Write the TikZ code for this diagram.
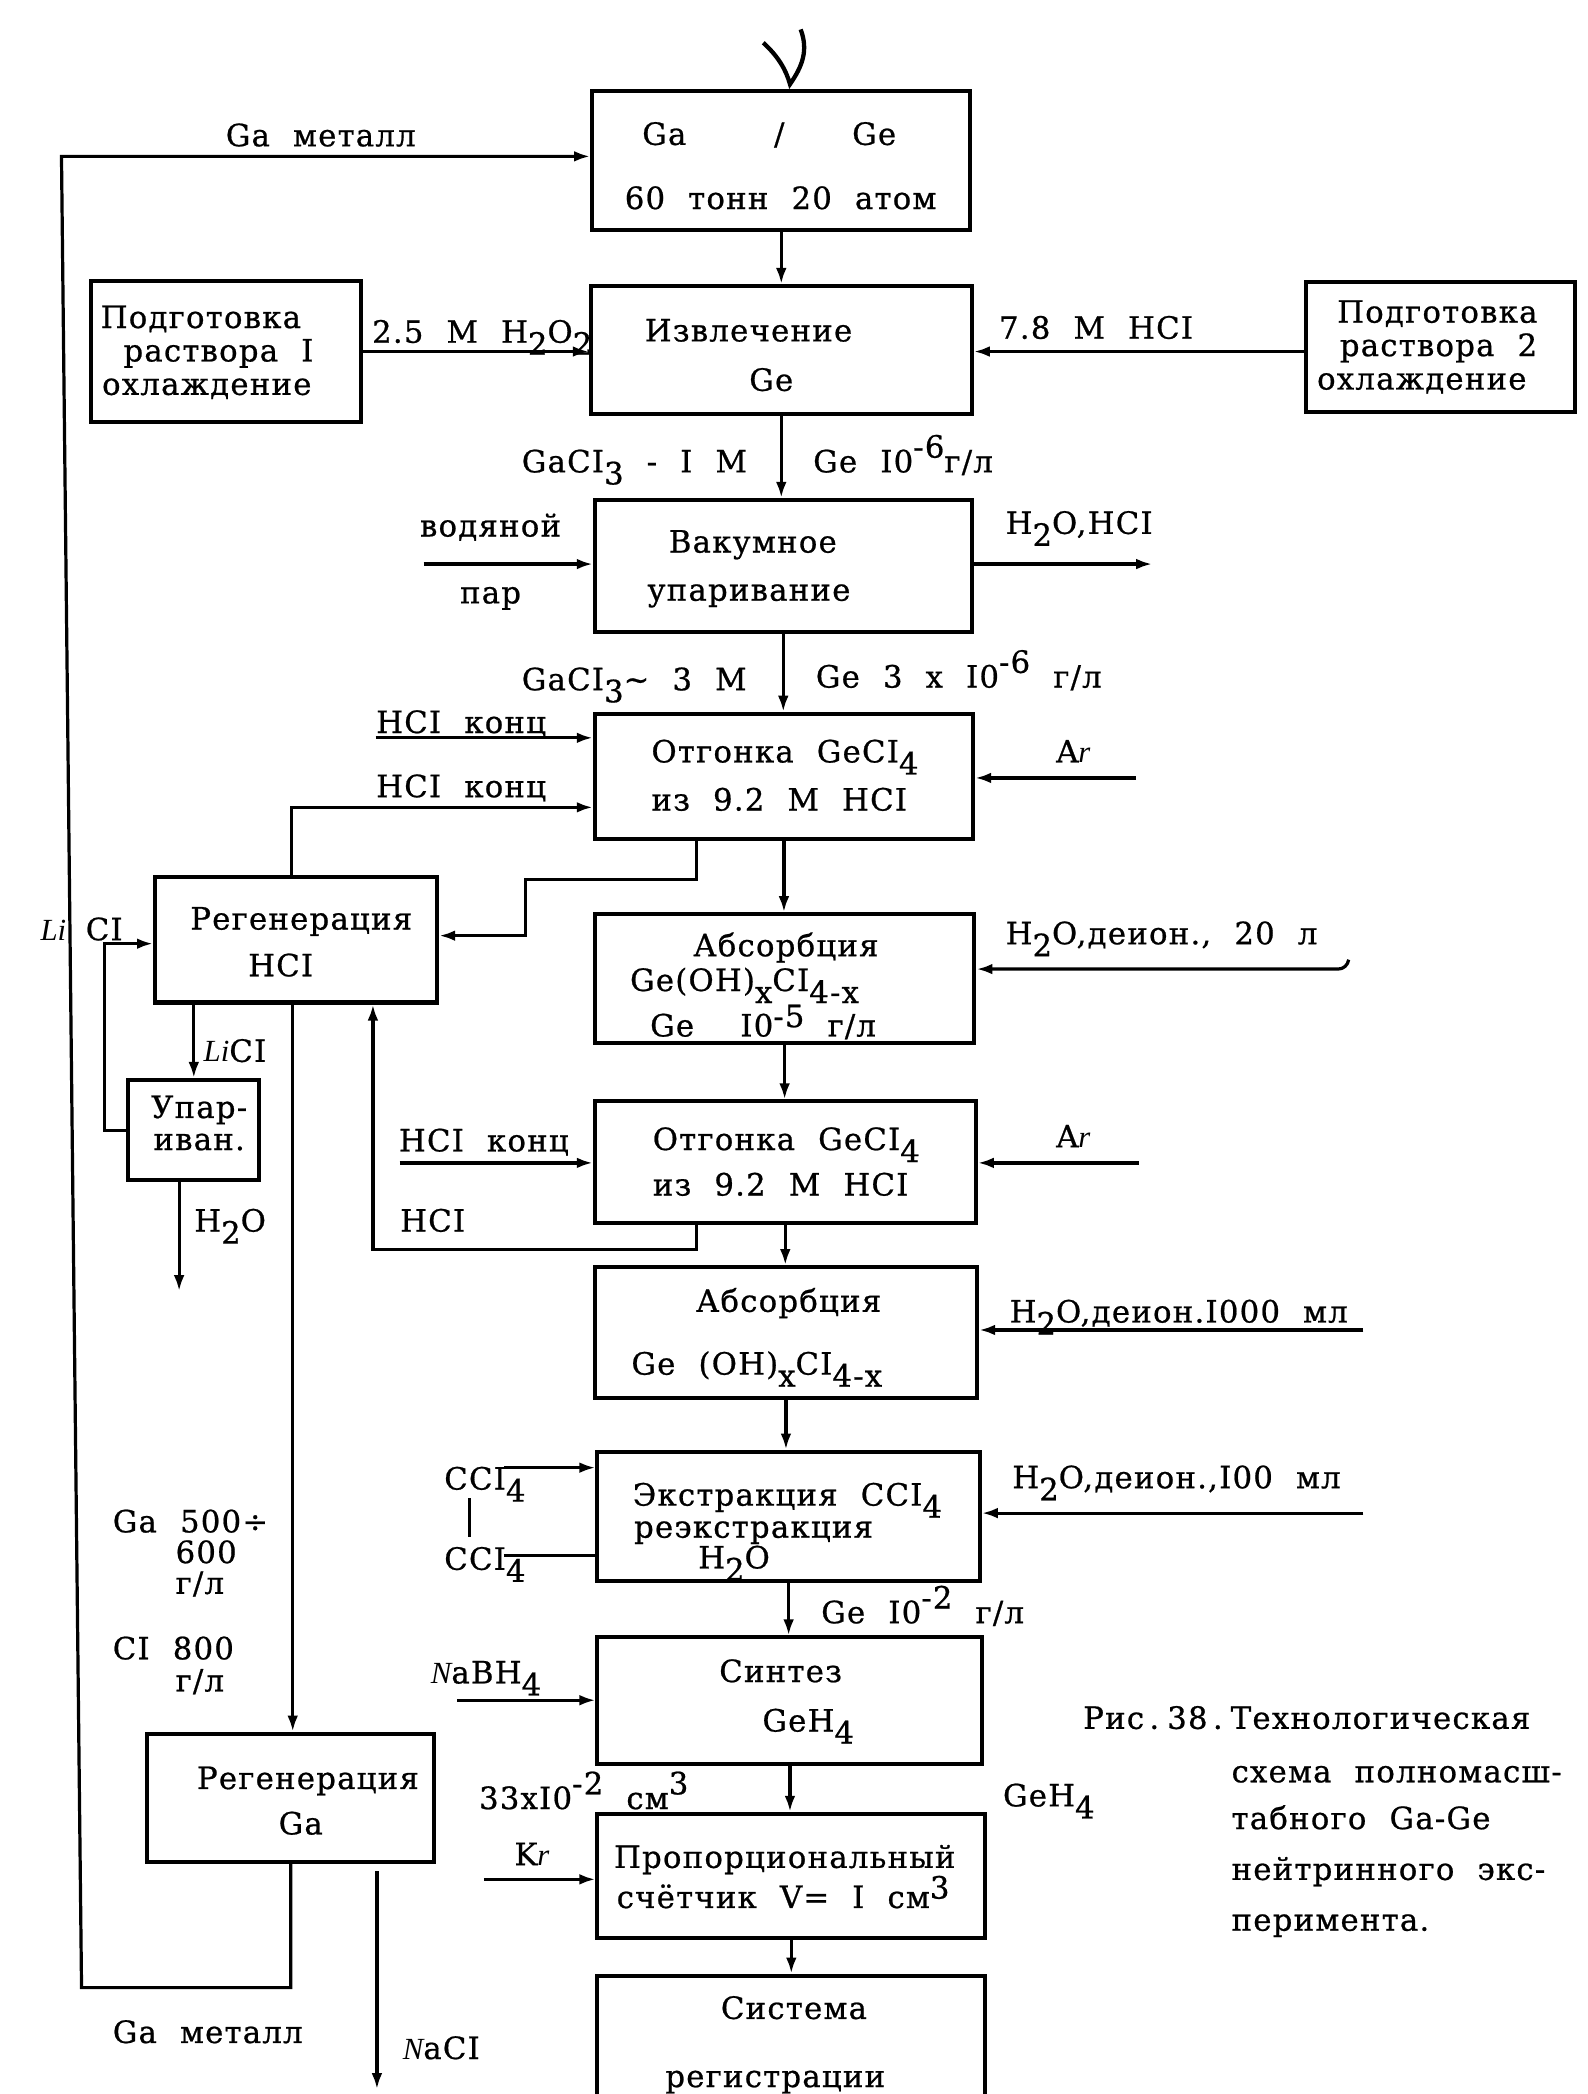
\documentclass[tikz,border=0pt]{standalone}
\usepackage{fontspec}
\usetikzlibrary{arrows.meta,fit,calc}
\newfontfamily\tw{DejaVu Serif}[LetterSpace=4,WordSpace=2.1,FakeBold=0.7]
\newfontfamily\hwf{Liberation Serif}
\newcommand\hw[1]{{\hwf\itshape #1}}
\newcommand\dn[1]{\smash{\raisebox{-4.5pt}{#1}}}
\newcommand\up[1]{\smash{\raisebox{5.5pt}{#1}}}
\newcommand\upl[1]{\smash{\raisebox{3.5pt}{#1}}}
\newcommand\dt{\kern2pt.\kern3pt}
\begin{document}
\begin{tikzpicture}[x=0.5pt,y=-0.5pt,
  box/.style={draw,line width=1.5pt,inner sep=0pt},
  ln/.style={line width=1.2pt},
  arr/.style={ln,-{Latex[length=6pt,width=4pt]}},
  t/.style={inner sep=0pt,font=\tw\fontsize{11.5pt}{14pt}\selectfont,text height=8.4pt,text depth=0pt},
  tw/.style={t,anchor=west}]
\clip (0,0) rectangle (1188,1566.6);
\fill[white] (0,0) rectangle (1188,1566.6);
% boxes
\node[box,fit={(443,68)(726,172)}] (A) {};
\node[box,fit={(442,214)(727,310)}] (B) {};
\node[box,fit={(68,210)(270,316)}] (P1) {};
\node[box,fit={(977,211)(1178,308)}] (P2) {};
\node[box,fit={(445,374)(727,473)}] (C) {};
\node[box,fit={(445,534)(728,628)}] (D) {};
\node[box,fit={(116,656)(327,750)}] (RH) {};
\node[box,fit={(445,684)(729,780)}] (E) {};
\node[box,fit={(96,808)(194,883)}] (U) {};
\node[box,fit={(445,824)(730,915)}] (F) {};
\node[box,fit={(445,948)(731,1046)}] (G) {};
\node[box,fit={(447,1086)(733,1183)}] (H) {};
\node[box,fit={(447,1225)(735,1320)}] (I) {};
\node[box,fit={(110,1297)(325,1393)}] (RG) {};
\node[box,fit={(447,1357)(737,1450)}] (J) {};
\node[box,fit={(447,1478)(737,1640)}] (K) {};
% main flow
\foreach \a/\b in {A/B,B/C,C/D,D/E,E/F,F/G,G/H,H/I,I/J,J/K}
  \draw[arr] (\a.south) -- (\a.south |- \b.north);
% nu mark
\draw[line width=1.6pt] (571,32) .. controls (582,42) and (588,52) .. (591,63) .. controls (600,50) and (605,38) .. (599,22);
% connectors
\coordinate (tl) at (46,117); \coordinate (bl) at (61,1487);
\draw[arr] (RG.south) -- (RG.south |- bl) -- (bl) -- (tl) -- (tl -| A.west);
\draw[arr] (P1.east) -- (P1.east -| B.west);
\coordinate (p2) at (977,263);
\draw[arr] (p2) -- (p2 -| B.east);
\coordinate (vp) at (317,422); \draw[arr] (vp) -- (vp -| C.west);
\coordinate (co) at (862,422); \draw[arr] (co -| C.east) -- (co);
\coordinate (h1) at (281,552); \draw[arr] (h1) -- (h1 -| D.west);
\coordinate (h2) at (218,604); \draw[arr] (h2 |- RH.north) -- (h2) -- (h2 -| D.west);
\coordinate (s1) at (521,658); \coordinate (s2) at (393,700);
\draw[arr] (s1 |- D.south) -- (s1) -- (s1 -| s2) -- (s2) -- (s2 -| RH.east);
\coordinate (ar1) at (850,582); \draw[arr] (ar1) -- (ar1 -| D.east);
\coordinate (w0) at (1009,718); \coordinate (w1) at (1001,725);
\draw[arr] (w0) to[out=-100,in=0] (w1) -- (w1 -| E.east);
\coordinate (hc) at (299,870); \draw[arr] (hc) -- (hc -| F.west);
\coordinate (r1) at (521,935); \coordinate (r2) at (279,935);
\draw[arr] (r1 |- F.south) -- (r1) -- (r2) -- (r2 |- RH.south);
\coordinate (ar2) at (852,870); \draw[arr] (ar2) -- (ar2 -| F.east);
\coordinate (w2) at (1020,995); \draw[arr] (w2) -- (w2 -| G.east);
\coordinate (c1) at (377,1098); \draw[arr] (c1) -- (c1 -| H.west);
\coordinate (c2) at (377,1164); \draw[ln] (c2) -- (c2 -| H.west);
\coordinate (c3) at (351,1121); \coordinate (c4) at (351,1150); \draw[ln] (c3) -- (c4);
\coordinate (w3) at (1020,1132); \draw[arr] (w3) -- (w3 -| H.east);
\coordinate (nb) at (342,1272); \draw[arr] (nb) -- (nb -| I.west);
\coordinate (kr) at (362,1406); \draw[arr] (kr) -- (kr -| J.west);
\coordinate (lc) at (145,0); \draw[arr] (lc |- RH.south) -- (lc |- U.north);
\coordinate (l1) at (78,846); \coordinate (l2) at (78,706);
\draw[arr] (U.west |- l1) -- (l1) -- (l2) -- (l2 -| RH.west);
\coordinate (wo) at (134,966); \draw[arr] (wo |- U.south) -- (wo);
\coordinate (rr) at (219,0); \draw[arr] (rr |- RH.south) -- (rr |- RG.north);
\coordinate (na1) at (282,1400); \coordinate (na2) at (282,1563); \draw[arr] (na1) -- (na2);
% texts
\node[t] (ga1) at (497,100) {Ga};
\node[t] (sl) at (583,100) {/};
\node[t] (ge1) at (654,100) {Ge};
\node[t] (a2) at (584,148) {60 тонн 20 атом};
\node[t] (gm1) at (240,101) {Ga металл};
\node[tw] (h2o2) at (278,248) {2.5 M H\dn{2}O\dn{2}};
\node[t] (b1) at (560,247) {Извлечение};
\node[t] (b2) at (577,284) {Ge};
\node[tw] (p11) at (75,237) {Подготовка};
\node[tw] (p12) at (92,262) {раствора I};
\node[tw] (p13) at (76,287) {охлаждение};
\node[tw] (p21) at (1000,233) {Подготовка};
\node[tw] (p22) at (1002,258) {раствора 2};
\node[tw] (p23) at (985,283) {охлаждение};
\node[t] (hcl78) at (820,245) {7.8 M HCI};
\node[tw] (gc1) at (390,345) {GaCI\dn{3} - I M};
\node[tw] (ge6) at (608,345) {Ge I0\up{-6}г/л};
\node[tw] (c1t) at (500,405) {Вакумное};
\node[tw] (c2t) at (484,441) {упаривание};
\node[t] (vod) at (367,393) {водяной};
\node[t] (par) at (367,443) {пар};
\node[tw] (h2ohcl) at (752,391) {H\dn{2}O,HCI};
\node[tw] (gc3) at (390,508) {GaCI\dn{3}\textasciitilde{} 3 M};
\node[tw] (ge36) at (610,506) {Ge 3 x I0\up{-6} г/л};
\node[tw] (d1) at (487,562) {Отгонка GeCI\dn{4}};
\node[tw] (d2) at (487,598) {из 9.2 M HCI};
\node[t] (hk1) at (345,540) {HCI конц};
\node[t] (hk2) at (345,588) {HCI конц};
\node[t] (ar1t) at (803,562) {A\hw{r}};
\node[tw] (rh1) at (142,687) {Регенерация};
\node[t] (rh2) at (210,722) {HCI};
\node[t] (li) at (40,695) {\hw{Li}};
\node[t] (cl) at (78,695) {CI};
\node[tw] (licl) at (152,786) {\hw{Li}CI};
\node[t] (e1) at (588,707) {Абсорбция};
\node[tw] (e2) at (471,733) {Ge(OH)\dn{x}CI\dn{4-x}};
\node[tw] (e3) at (486,767) {Ge\ \ I0\upl{-5} г/л};
\node[tw] (w1t) at (752,698) {H\dn{2}O,деион., 20 л};
\node[t] (u1) at (149,828) {Упар-};
\node[t] (u2) at (149,852) {иван.};
\node[tw] (h2ou) at (145,913) {H\dn{2}O};
\node[tw] (f1) at (488,852) {Отгонка GeCI\dn{4}};
\node[tw] (f2) at (488,886) {из 9.2 M HCI};
\node[t] (hk3) at (362,853) {HCI конц};
\node[tw] (hcl2) at (299,913) {HCI};
\node[t] (ar2t) at (803,850) {A\hw{r}};
\node[t] (g1) at (590,973) {Абсорбция};
\node[tw] (g2) at (472,1020) {Ge (OH)\dn{x}CI\dn{4-x}};
\node[tw] (w2t) at (755,981) {H\dn{2}O,деион.I000 мл};
\node[tw] (h1t) at (473,1118) {Экстракция CCI\dn{4}};
\node[tw] (h2t) at (474,1142) {реэкстракция};
\node[tw] (h3t) at (522,1165) {H\dn{2}O};
\node[tw] (cc1) at (332,1106) {CCI\dn{4}};
\node[tw] (cc2) at (332,1166) {CCI\dn{4}};
\node[tw] (w3t) at (757,1105) {H\dn{2}O,деион.,I00 мл};
\node[tw] (ge2) at (614,1206) {Ge I0\up{-2} г/л};
\node[t] (i1) at (584,1250) {Синтез};
\node[tw] (i2) at (570,1287) {GeH\dn{4}};
\node[tw] (nbh) at (322,1251) {\hw{N}aBH\dn{4}};
\node[tw] (v33) at (358,1345) {33xI0\up{-2} см\up{3}};
\node[tw] (geh) at (750,1343) {GeH\dn{4}};
\node[t] (krt) at (398,1387) {K\hw{r}};
\node[tw] (j1) at (459,1389) {Пропорциональный};
\node[tw] (j2) at (461,1419) {счётчик V= I см\upl{3}};
\node[t] (k1) at (594,1502) {Система};
\node[t] (k2) at (580,1553) {регистрации};
\node[tw] (rg1) at (147,1330) {Регенерация};
\node[t] (rg2) at (225,1364) {Ga};
\node[tw] (g500) at (84,1138) {Ga 500÷};
\node[tw] (g600) at (131,1161) {600};
\node[tw] (gl1) at (131,1184) {г/л};
\node[tw] (cl800) at (84,1233) {CI 800};
\node[tw] (gl2) at (131,1257) {г/л};
\node[tw] (gm2) at (84,1520) {Ga металл};
\node[tw] (nacl) at (301,1532) {\hw{N}aCI};
\node[tw] (cap1) at (810,1285) {Рис\dt 38\dt Технологическая};
\node[tw] (cap2) at (921,1325) {схема полномасш-};
\node[tw] (cap3) at (921,1360) {табного Ga-Ge};
\node[tw] (cap4) at (921,1398) {нейтринного экс-};
\node[tw] (cap5) at (921,1436) {перимента.};
\end{tikzpicture}
\end{document}
